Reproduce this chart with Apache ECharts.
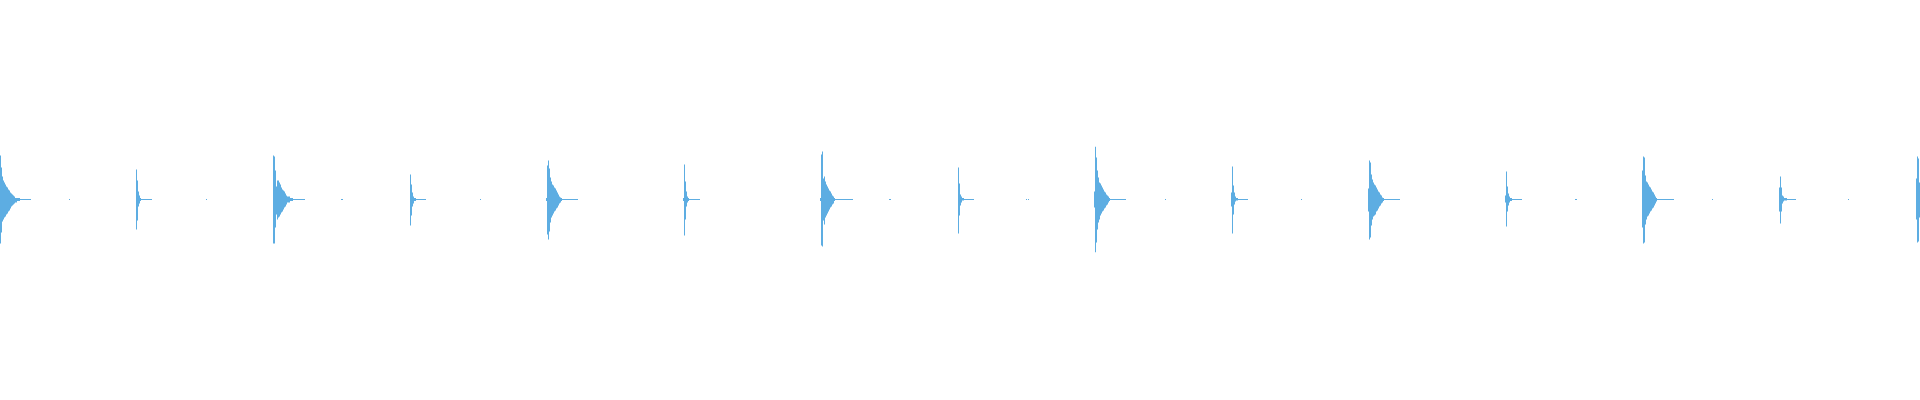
<!DOCTYPE html>
<html>
<head>
<meta charset="utf-8">
<script src="https://cdn.jsdelivr.net/npm/echarts@6/dist/echarts.min.js"></script>
<style>html,body{margin:0;padding:0;background:#fff;}#chart{width:1920px;height:400px;}</style>
</head>
<body>
<div id="chart"></div>
<script>
// Sample count (one column per sample bucket)
const sampleCount = 1920;

// Onset (first bucket index) of each hit
const onsets = [0, 136, 273, 410, 546, 683, 820, 958, 1094, 1231, 1368, 1505, 1642, 1779, 1916];

// Positive peak envelope of each hit (normalised amplitude)
const peaksUp = [
  [.22,.16,.115,.095,.085,.075,.065,.06,.05,.045,.035,.03,.025,.02,.015,.008,.008,.008,.008,.008],
  [.15,.095,.04,.02,.008],
  [.22,.215,.145,.065,.095,.095,.085,.075,.06,.05,.045,.04,.03,.02,.015,.015,.015,.008,.008,.008],
  [.125,.075,.035,.015,.008,.008],
  [.008,.17,.195,.155,.11,.09,.075,.07,.06,.055,.045,.035,.025,.015,.01,.008],
  [.008,.175,.09,.04,.015,.008],
  [.008,.225,.24,.105,.115,.09,.075,.065,.055,.045,.04,.03,.02,.015,.008],
  [.16,.08,.025,.015,.008,.008],
  [.04,.265,.21,.145,.11,.085,.08,.07,.06,.05,.04,.035,.025,.02,.015,.008],
  [.035,.165,.07,.035,.015,.008,.008],
  [.055,.195,.185,.125,.1,.085,.075,.07,.06,.05,.04,.035,.025,.02,.01,.008],
  [.02,.14,.065,.03,.015,.008,.008],
  [.145,.215,.21,.12,.09,.085,.075,.065,.06,.05,.04,.035,.025,.015,.008],
  [.06,.115,.06,.02,.015,.008,.008,.008],
  [.105,.215,.205,.085]
];

// Negative peak envelope of each hit (magnitude, normalised amplitude)
const peaksDown = [
  [.22,.165,.11,.1,.09,.085,.075,.07,.06,.055,.045,.035,.03,.025,.02,.015,.015,.008,.008,.008],
  [.15,.105,.035,.02,.008],
  [.22,.22,.14,.075,.1,.09,.085,.075,.065,.06,.05,.04,.035,.025,.015,.015,.015,.008,.008,.008],
  [.13,.08,.035,.02,.008,.008],
  [.008,.175,.2,.16,.115,.09,.08,.07,.06,.055,.045,.04,.03,.02,.015,.008],
  [.008,.18,.1,.035,.015,.008],
  [.008,.23,.235,.105,.125,.09,.08,.07,.06,.05,.04,.035,.025,.02,.008],
  [.17,.08,.03,.015,.005,.005],
  [.04,.265,.215,.15,.115,.1,.08,.07,.06,.055,.045,.04,.03,.025,.015,.008],
  [.035,.17,.075,.025,.01,.005,.005],
  [.06,.2,.19,.13,.1,.085,.08,.075,.06,.055,.045,.035,.03,.02,.015,.008],
  [.015,.135,.06,.03,.015,.008,.008],
  [.14,.22,.215,.125,.1,.085,.08,.07,.06,.055,.045,.04,.03,.02,.01],
  [.06,.12,.06,.02,.01,.005,.005,.005],
  [.1,.215,.21,.09]
];

// Length (in buckets) of the low-level decay tail after each envelope
const tailLengths = [11, 11, 12, 10, 16, 11, 18, 10, 16, 10, 16, 10, 17, 9, 0];
const tailLevel = 0.0025;

// Isolated low-level clicks between hits
const clickPositions = [69, 206, 341, 342, 480, 889, 890, 1026, 1028, 1165, 1301, 1575, 1576, 1712, 1848];
const clickLevel = 0.0025;

// Build per-bucket [index, max, min] rows (only non-silent buckets)
const upper = new Array(sampleCount).fill(0);
const lower = new Array(sampleCount).fill(0);
clickPositions.forEach(p => { upper[p] = clickLevel; lower[p] = -clickLevel; });
onsets.forEach((start, k) => {
  const up = peaksUp[k], dn = peaksDown[k];
  for (let j = 0; j < up.length; j++) {
    const idx = start + j;
    if (idx < sampleCount) { upper[idx] = up[j]; lower[idx] = -dn[j]; }
  }
  for (let t = 0; t < tailLengths[k]; t++) {
    const idx = start + up.length + t;
    if (idx < sampleCount) { upper[idx] = tailLevel; lower[idx] = -tailLevel; }
  }
});
const rows = [];
for (let i = 0; i < sampleCount; i++) {
  if (upper[i] !== 0 || lower[i] !== 0) rows.push([i, upper[i], lower[i]]);
}

const chart = echarts.init(document.getElementById('chart'), null, {renderer: 'canvas'});
const color = '#5DADE2';
chart.setOption({
  animation: false,
  backgroundColor: '#ffffff',
  grid: {left: 0, right: 0, top: 0, bottom: 1, containLabel: false},
  xAxis: {type: 'value', min: 0, max: sampleCount, show: false},
  yAxis: {type: 'value', min: -1, max: 1, show: false},
  series: [{
    type: 'custom',
    silent: true,
    data: rows,
    encode: {x: 0, y: [1, 2]},
    renderItem: function (params, api) {
      const i = api.value(0);
      const pTop = api.coord([i, api.value(1)]);
      const pBot = api.coord([i, api.value(2)]);
      const pNext = api.coord([i + 1, 0]);
      const x0 = Math.round(pTop[0]);
      const x1 = Math.round(pNext[0]);
      return {
        type: 'rect',
        shape: {x: x0, y: pTop[1], width: Math.max(1, x1 - x0), height: pBot[1] - pTop[1]},
        style: {fill: color}
      };
    }
  }]
});
</script>
</body>
</html>
